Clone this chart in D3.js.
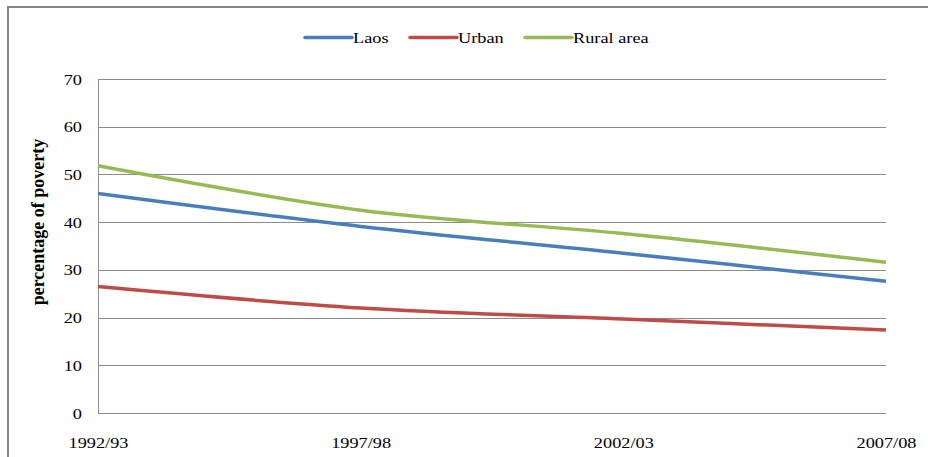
<!DOCTYPE html>
<html>
<head>
<meta charset="utf-8">
<script src="https://cdn.jsdelivr.net/npm/d3@7"></script>
<style>
html,body{margin:0;padding:0;background:#fff;}
svg{display:block;}
</style>
</head>
<body>
<svg id="chart" width="928" height="457"></svg>
<script>
const categories = ["1992/93", "1997/98", "2002/03", "2007/08"];
const seriesNames = ["Laos", "Urban", "Rural area"];
const laos = [46.0, 39.1, 33.5, 27.6];
const urban = [26.5, 22.0, 19.7, 17.4];
const rural = [51.8, 42.5, 37.6, 31.6];
const yTicks = [0, 10, 20, 30, 40, 50, 60, 70];
const colors = ["#4a7ebb", "#be4b48", "#98b954"];

const FONT = "'Liberation Serif','Times New Roman',serif";
const SX = 1.22; // horizontal stretch seen in the reference
const series = [laos, urban, rural];
const svg = d3.select("#chart");
const W = 928, H = 457;
const m = {left: 98, right: 886, top: 79, bottom: 413};

// outer frame
svg.append("rect").attr("x", 8).attr("y", 7).attr("width", W + 10).attr("height", H + 10)
  .attr("fill", "none").attr("stroke", "#878787").attr("stroke-width", 2);

const x = d3.scalePoint().domain(categories).range([m.left, m.right]);
const y = d3.scaleLinear().domain([0, 70]).range([m.bottom, m.top]);

function sText(g, tx, ty, str, anchor, size) {
  g.append("text")
    .attr("transform", `translate(${tx},${ty}) scale(${SX},1)`)
    .attr("text-anchor", anchor)
    .style("font-family", FONT).style("font-size", size + "px").attr("fill", "#000")
    .text(str);
}

// gridlines via axis
const yAxis = d3.axisLeft(y).tickValues(yTicks).tickSize(-(m.right - m.left)).tickFormat("");
const gy = svg.append("g").attr("transform", `translate(${m.left},0)`).call(yAxis);
gy.select(".domain").remove();
gy.selectAll(".tick line").attr("stroke", "#8c8c8c").attr("stroke-width", 1).attr("shape-rendering", "crispEdges");
gy.selectAll(".tick").each(function(d) {
  sText(d3.select(this), -16, 5, d3.format("d")(d), "end", 15);
});

// vertical axis line
svg.append("line").attr("x1", m.left).attr("x2", m.left).attr("y1", m.top).attr("y2", m.bottom)
  .attr("stroke", "#8c8c8c").attr("shape-rendering", "crispEdges");

// x axis labels
const xAxis = d3.axisBottom(x).tickSize(0).tickFormat("");
const gx = svg.append("g").attr("transform", `translate(0,${m.bottom})`).call(xAxis);
gx.select(".domain").remove();
gx.selectAll(".tick").each(function(d) {
  sText(d3.select(this), 0, 35, d, "middle", 15);
});

// y label
svg.append("text").attr("transform", `translate(44,222) rotate(-90)`)
  .attr("text-anchor", "middle").style("font-family", FONT).style("font-size", "18px")
  .attr("font-weight", "bold").attr("fill", "#000")
  .text("percentage of poverty");

// lines
const line = d3.line().x((d, i) => x(categories[i])).y(d => y(d)).curve(d3.curveCatmullRom.alpha(0));
series.forEach((s, k) => {
  svg.append("path").datum(s).attr("d", line).attr("fill", "none")
    .attr("stroke", colors[k]).attr("stroke-width", 3.5).attr("stroke-linecap", "butt");
});

// legend
const legendX = [305, 410, 525];
const lg = svg.append("g");
seriesNames.forEach((n, k) => {
  lg.append("line").attr("x1", legendX[k]).attr("x2", legendX[k] + 47).attr("y1", 37.5).attr("y2", 37.5)
    .attr("stroke", colors[k]).attr("stroke-width", 3.5).attr("stroke-linecap", "round");
  sText(lg, legendX[k] + 48, 43, n, "start", 15);
});
</script>
</body>
</html>
